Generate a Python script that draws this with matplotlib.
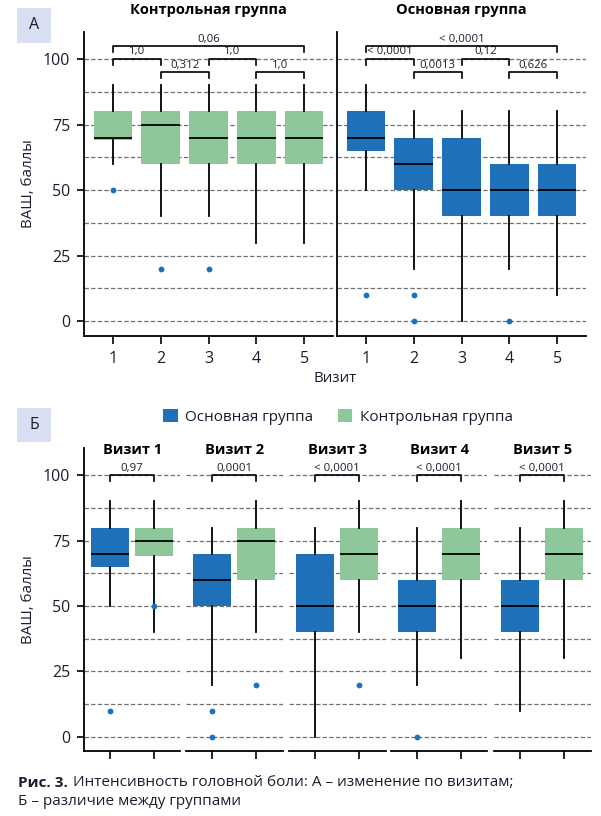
import matplotlib
matplotlib.use('Agg')
import matplotlib.pyplot as plt
from matplotlib.patches import Rectangle, Patch

plt.rcParams['font.family'] = ['Open Sans', 'DejaVu Sans']

# ---------------- data ----------------
visits = [1, 2, 3, 4, 5]
visit_labels = ['1', '2', '3', '4', '5']
yticks = [0, 25, 50, 75, 100]
grid_levels = [0, 12.5, 25, 37.5, 50, 62.5, 75, 87.5, 100]

# Panel A: control group by visit
ctrl_A_whislo = [60, 40, 40, 30, 30]
ctrl_A_q1 = [69, 60, 60, 60, 60]
ctrl_A_med = [70, 75, 70, 70, 70]
ctrl_A_q3 = [80, 80, 80, 80, 80]
ctrl_A_whishi = [90, 90, 90, 90, 90]
ctrl_A_fliers = [[50], [20], [20], [], []]

# Main group by visit (both panels)
main_whislo = [50, 20, 0, 20, 10]
main_q1 = [65, 50, 40, 40, 40]
main_med = [70, 60, 50, 50, 50]
main_q3 = [80, 70, 70, 60, 60]
main_whishi = [90, 80, 80, 80, 80]
main_fliers = [[10], [10, 0], [], [0], []]

# Panel B: control group by visit
ctrl_B_whislo = [40, 40, 40, 30, 30]
ctrl_B_q1 = [69, 60, 60, 60, 60]
ctrl_B_med = [75, 75, 70, 70, 70]
ctrl_B_q3 = [80, 80, 80, 80, 80]
ctrl_B_whishi = [90, 90, 90, 90, 90]
ctrl_B_fliers = [[50], [20], [20], [], []]

# p-values
pairs_A = [(1, 5), (1, 2), (2, 3), (3, 4), (4, 5)]
p_ctrl_A = ['0,06', '1,0', '0,312', '1,0', '1,0']
p_main_A = ['< 0,0001', '< 0,0001', '0,0013', '0,12', '0,626']
p_B = ['0,97', '0,0001', '< 0,0001', '< 0,0001', '< 0,0001']

titles_A = ['Контрольная группа', 'Основная группа']
titles_B = ['Визит 1', 'Визит 2', 'Визит 3', 'Визит 4', 'Визит 5']
group_names = ['Основная группа', 'Контрольная группа']

BLUE = '#1e70b8'
GREEN = '#8dc79a'
TXT = '#1c1c30'
GRID = '#707070'

W, H = 601, 816
fig = plt.figure(figsize=(W / 100, H / 100), dpi=100)


def fx(px):
    return px / W


def fy(py):
    return 1 - py / H


def stats_list(lo, q1, med, q3, hi, fl):
    return [dict(whislo=a, q1=b, med=c, q3=d, whishi=e, fliers=f)
            for a, b, c, d, e, f in zip(lo, q1, med, q3, hi, fl)]


def draw_boxes(ax, stats, positions, color, width):
    ax.bxp(stats, positions=positions, widths=width, patch_artist=True,
           showcaps=False,
           boxprops=dict(facecolor=color, edgecolor='none', linewidth=0),
           medianprops=dict(color='black', linewidth=1.3),
           whiskerprops=dict(color='black', linewidth=1.3),
           flierprops=dict(marker='o', markerfacecolor=BLUE,
                           markeredgecolor='none', markersize=4.2),
           manage_ticks=False)


def style_axes(ax, left_spine=True):
    ax.set_ylim(-5.5, 110.3)
    for lev in grid_levels:
        ax.axhline(lev, color=GRID, lw=0.9, ls=(0, (3.5, 1.8)), zorder=0)
    ax.spines['top'].set_visible(False)
    ax.spines['right'].set_visible(False)
    ax.spines['bottom'].set_linewidth(1.3)
    ax.spines['left'].set_linewidth(1.3)
    ax.spines['left'].set_visible(left_spine)
    ax.tick_params(axis='x', length=6, width=1.2, pad=5, labelsize=11.5,
                   labelcolor=TXT)
    ax.tick_params(axis='y', length=5, width=1.2, pad=5, labelsize=11.5,
                   labelcolor=TXT)


def bracket(ax, x1, x2, y, leg, text, fs=8.2):
    ax.plot([x1, x1, x2, x2], [y - leg, y, y, y - leg], color='black',
            lw=1.2, clip_on=False, zorder=5)
    ax.text((x1 + x2) / 2, y + 0.6, text, ha='center', va='bottom',
            fontsize=fs, color=TXT, clip_on=False)


# ---------------- Panel A ----------------
top_px, bot_px = 32, 335.7
axA = []
for i, left in enumerate([84, 337]):
    ax = fig.add_axes([fx(left), fy(bot_px), fx(249), (bot_px - top_px) / H])
    style_axes(ax, left_spine=True)
    ax.set_xlim(0.4, 5.6)
    ax.set_xticks(visits)
    ax.set_xticklabels(visit_labels)
    if i == 0:
        ax.set_yticks(yticks)
        ax.set_yticklabels([str(v) for v in yticks])
    else:
        ax.set_yticks([])
    axA.append(ax)

draw_boxes(axA[0], stats_list(ctrl_A_whislo, ctrl_A_q1, ctrl_A_med, ctrl_A_q3,
                              ctrl_A_whishi, ctrl_A_fliers), visits, GREEN, 0.8)
draw_boxes(axA[1], stats_list(main_whislo, main_q1, main_med, main_q3,
                              main_whishi, main_fliers), visits, BLUE, 0.8)

levels_A = [104.8, 100, 95, 100, 95]
for ax, pv in zip(axA, [p_ctrl_A, p_main_A]):
    for (a, b), lev, t in zip(pairs_A, levels_A, pv):
        bracket(ax, a, b, lev, 2.1, t)

for ax, t in zip(axA, titles_A):
    ax.text(3, 118.5, t, ha='center', va='center', fontsize=10.5,
            fontweight='bold', color='black', clip_on=False)

fig.text(fx(28), fy((top_px + bot_px) / 2), 'ВАШ, баллы', rotation=90,
         ha='center', va='center', fontsize=10.8, color=TXT)
fig.text(fx(335), fy(378), 'Визит', ha='center', va='center',
         fontsize=10.8, color=TXT)

# ---------------- Panel B ----------------
top_px, bot_px = 448.3, 751.3
lefts_B = [84, 186, 289, 391, 494]
for i, left in enumerate(lefts_B):
    ax = fig.add_axes([fx(left), fy(bot_px), fx(96.5), (bot_px - top_px) / H])
    style_axes(ax, left_spine=(i == 0))
    ax.set_xlim(0.4, 2.6)
    ax.set_xticks([1, 2])
    ax.set_xticklabels([])
    if i == 0:
        ax.set_yticks(yticks)
        ax.set_yticklabels([str(v) for v in yticks])
    else:
        ax.set_yticks([])
    s_main = stats_list([main_whislo[i]], [main_q1[i]], [main_med[i]],
                        [main_q3[i]], [main_whishi[i]], [main_fliers[i]])
    s_ctrl = stats_list([ctrl_B_whislo[i]], [ctrl_B_q1[i]], [ctrl_B_med[i]],
                        [ctrl_B_q3[i]], [ctrl_B_whishi[i]], [ctrl_B_fliers[i]])
    draw_boxes(ax, s_main, [1], BLUE, 0.86)
    draw_boxes(ax, s_ctrl, [2], GREEN, 0.86)
    bracket(ax, 1, 2, 100, 2.3, p_B[i])
    ax.text(1.5, 109.8, titles_B[i], ha='center', va='center', fontsize=10.5,
            fontweight='bold', color='black', clip_on=False)

fig.text(fx(28), fy((top_px + bot_px) / 2), 'ВАШ, баллы', rotation=90,
         ha='center', va='center', fontsize=10.8, color=TXT)

handles = [Patch(facecolor=BLUE, edgecolor='none'),
           Patch(facecolor=GREEN, edgecolor='none')]
fig.legend(handles, group_names, loc='center', bbox_to_anchor=(fx(338), fy(417)),
           ncol=2, frameon=False, fontsize=11, handlelength=0.95,
           handleheight=0.95, handletextpad=0.5, columnspacing=1.6,
           labelcolor=TXT)

# ---------------- panel letters ----------------
for (y0, y1), letter in zip([(8, 42.7), (408, 441.7)], ['А', 'Б']):
    fig.add_artist(Rectangle((fx(17), fy(y1)), fx(34), (y1 - y0) / H,
                             transform=fig.transFigure, facecolor='#d9dff2',
                             edgecolor='none'))
    fig.text(fx(34), fy((y0 + y1) / 2), letter, ha='center', va='center',
             fontsize=11.5, color=TXT)

# ---------------- caption ----------------
t1 = fig.text(fx(17.7), fy(782.7), 'Рис. 3.', ha='left', va='center',
              fontsize=11, fontweight='bold', color=TXT)
fig.canvas.draw()
bb = t1.get_window_extent()
fig.text(fx(bb.x1 + 5), fy(782.7),
         'Интенсивность головной боли: А – изменение по визитам;',
         ha='left', va='center', fontsize=11, color=TXT)
fig.text(fx(17.7), fy(801.7), 'Б – различие между группами', ha='left',
         va='center', fontsize=11, color=TXT)

fig.savefig('out.png', dpi=100)
